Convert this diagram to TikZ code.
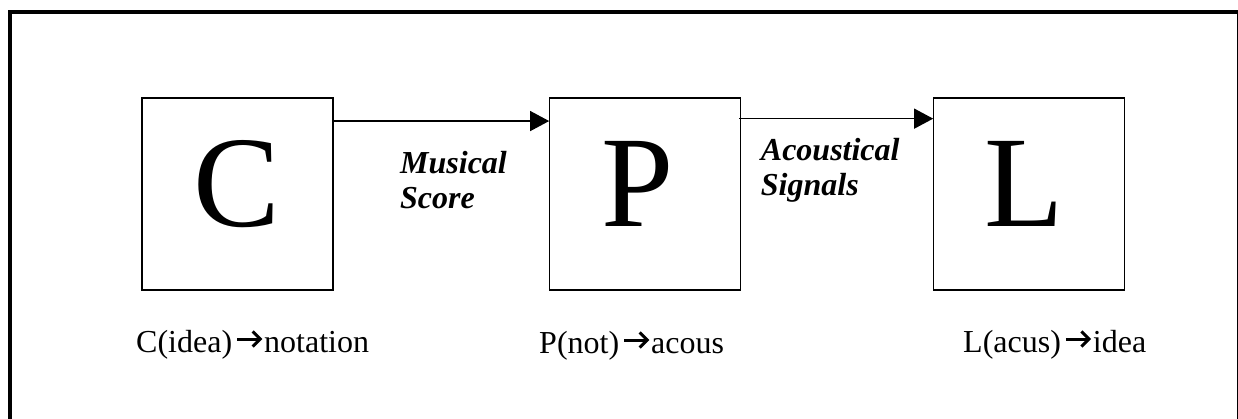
\documentclass[tikz,border=0pt]{standalone}
\usepackage{fontspec}
\setmainfont{Liberation Serif}
\usetikzlibrary{arrows.meta}
\newcommand{\rarr}{\hspace{3.5pt}\tikz[baseline=0pt,x=1pt,y=1pt,line width=3pt,miter limit=10]{\draw (0,13) -- (23,13); \draw (15.5,20.5) -- (23,13) -- (15.5,5.5);}\hspace{2.5pt}}
\tikzset{
  stagebox/.style={draw, line width=1.3pt, minimum width=191pt, minimum height=192pt, inner sep=0pt},
  bigletter/.style={anchor=base, inner sep=0pt, font=\fontsize{130}{130}\selectfont},
  flowlabel/.style={anchor=base west, inner sep=0pt, align=left, font=\fontsize{32}{35}\selectfont\bfseries\itshape},
  desc/.style={anchor=base west, inner sep=0pt, font=\fontsize{32}{35}\selectfont},
  flow/.style={line width=1.3pt, -{Triangle[length=19pt,width=20pt]}}
}
\begin{document}
\begin{tikzpicture}[x=1pt,y=-1pt]
\clip (0,0) rectangle (1238,419);
\fill[white] (0,0) rectangle (1238,419);
\draw[line width=4pt] (10,12) rectangle (1238.5,423);
\node[stagebox] (C) at (237.5,194) {};
\node[stagebox] (P) at (645.3,194) {};
\node[stagebox] (L) at (1029.3,194) {};
\node[bigletter] (Ct) at ([yshift=-33pt,xshift=-1pt]C.center) {C};
\node[bigletter] (Pt) at ([yshift=-33pt,xshift=-8pt]P.center) {P};
\node[bigletter] (Lt) at ([yshift=-33pt,xshift=-5pt]L.center) {L};
\draw[flow] ([yshift=-23.7pt]C.north east) -- ([yshift=-23.7pt]P.north west);
\draw[flow] ([yshift=-21.3pt,xshift=-2pt]P.north east) -- ([yshift=-21.3pt]L.north west);
\node[flowlabel] (ms) at (400,209) {Musical\\Score};
\node[flowlabel] (as) at (760.7,195.7) {Acoustical\\Signals};
\node[desc] (Cd) at (136,352) {C(idea)\rarr notation};
\node[desc] (Pd) at (539,353) {P(not)\rarr acous};
\node[desc] (Ld) at (963,352) {L(acus)\rarr idea};
\end{tikzpicture}
\end{document}
